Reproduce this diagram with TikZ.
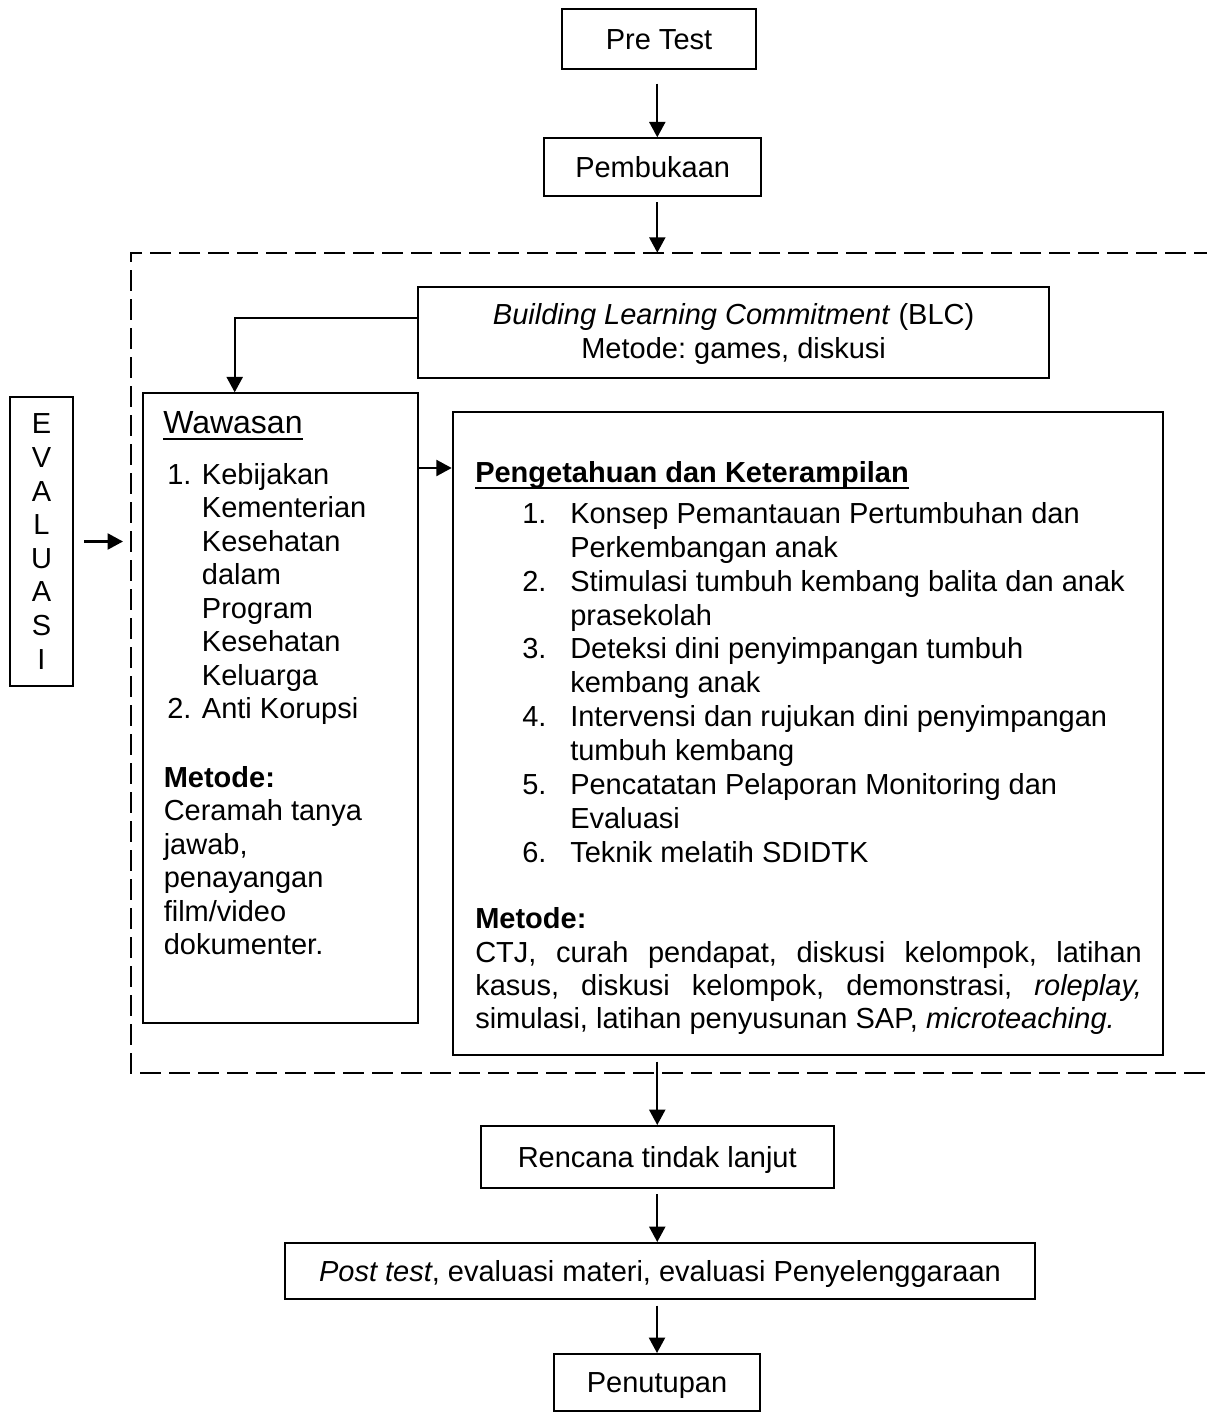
\documentclass[tikz,border=0pt]{standalone}
\usepackage{fontspec}
\setmainfont{Liberation Sans}
\usetikzlibrary{arrows.meta,fit,calc}
\newcommand\fsz{\fontsize{21.75}{25.2}\selectfont\frenchspacing}
\begin{document}
\begin{tikzpicture}[x=0.75pt,y=-0.75pt,
  box/.style={draw, line width=1.5pt, inner sep=0pt},
  arr/.style={line width=1.6pt, -{Triangle[length=11.5pt,width=12pt]}},
  txt/.style={inner sep=0pt, anchor=base west, font=\fsz},
  ctxt/.style={inner sep=0pt, anchor=base, font=\fsz},
  frame/.style={line width=1.5pt, dash pattern=on 15.75pt off 6pt}]
\fill[white] (0,0) rectangle (1206,1412);
\useasboundingbox (0,0) rectangle (1206,1412);

% dashed frame (open to the right)
\draw[frame] (1215,252.7) -- (130.7,252.7) -- (130.7,1073) -- (1215,1073);
\coordinate (ftop) at (657.3,252.7);
\coordinate (fleft) at (130.7,540);

% boxes
\node[box, fit={(562.3,9.3)(755.7,69.3)}] (pre) {};
\node[box, fit={(544.3,138.3)(761,196)}] (pemb) {};
\node[box, fit={(418.3,287.3)(1049,378.3)}] (blc) {};
\node[box, fit={(10,397)(73,686)}] (eval) {};
\node[box, fit={(142.7,393.3)(418.3,1023.3)}] (waw) {};
\node[box, fit={(452.7,411.7)(1163,1054.7)}] (pk) {};
\node[box, fit={(481,1126)(833.5,1188)}] (ren) {};
\node[box, fit={(285,1243)(1035,1298.5)}] (post) {};
\node[box, fit={(554,1354)(760,1411)}] (pen) {};

% box texts
\node[ctxt] (pret) at ($(pre.center)+(0,10.4)$) {Pre Test};
\node[ctxt] (pembt) at ($(pemb.center)+(0,10.4)$) {Pembukaan};
\node[ctxt] (blct1) at ($(blc.center)+(0,-7.8)$) {\textit{Building Learning Commitment} (BLC)};
\node[ctxt] (blct2) at ($(blc.center)+(0,25.2)$) {Metode: games, diskusi};
\node[inner sep=0pt, font=\fsz, align=center, anchor=center] (evalt) at ($(eval.center)+(0,0)$) {E\\V\\A\\L\\U\\A\\S\\I};
\node[ctxt] (rent) at ($(ren.center)+(0,10.4)$) {Rencana tindak lanjut};
\node[ctxt] (postt) at ($(post.center)+(0,10.4)$) {\textit{Post test}, evaluasi materi, evaluasi Penyelenggaraan};
\node[ctxt] (pent) at ($(pen.center)+(0,10.4)$) {Penutupan};

% connectors
\draw[arr, shorten <=10pt] (pre.south -| ftop) -- (pemb.north -| ftop);
\draw[arr, shorten <=4pt] (pemb.south -| ftop) -- (ftop);
\draw[arr] ($(blc.north west)!0.34!(blc.south west)$) -| ($(waw.north west)!0.335!(waw.north east)$);
\draw[arr, shorten <=7.5pt, shorten >=5.8pt] (eval.east) -- (eval.east -| fleft);
\draw[arr] ($(waw.north east)+(0,75.7)$) coordinate (wp) -- (wp -| pk.west);
\draw[arr, shorten <=4.5pt] (ren.north |- pk.south) -- (ren.north);
\draw[arr, shorten <=4pt] (ren.south) -- (ren.south |- post.north);
\draw[arr, shorten <=4.5pt] (pen.north |- post.south) -- (pen.north);

% Wawasan content
\node[txt, font=\fontsize{24}{28}\selectfont] (wt) at (163,433) {Wawasan};
\draw[line width=1.5pt] ($(wt.base west)+(0,6.3)$) -- ($(wt.base east)+(0,6.3)$);
\node[txt] (wn1) at (167,484) {1.};
\foreach \t [count=\i] in {Kebijakan,Kementerian,Kesehatan,dalam,Program,Kesehatan,Keluarga}
  \node[txt] (wl\i) at (201.7,{484+33.5*(\i-1)}) {\t};
\node[txt] (wn2) at (167,718.5) {2.};
\node[txt] (wl8) at (201.7,718.5) {Anti Korupsi};
\node[txt] (wm) at (163.5,787) {\textbf{Metode:}};
\foreach \t [count=\i] in {Ceramah tanya,{jawab,},penayangan,film/video,dokumenter.}
  \node[txt] (wd\i) at (163.5,{787+33.5*\i}) {\t};

% Pengetahuan content
\node[txt] (pt) at (475,482) {\textbf{Pengetahuan dan Keterampilan}};
\draw[line width=1.5pt] ($(pt.base west)+(0,5.5)$) -- ($(pt.base east)+(0,5.5)$);
\node[txt] (pn1) at (522,523.3) {1.};
\node[txt] (pn2) at (522,591.1) {2.};
\node[txt] (pn3) at (522,658.9) {3.};
\node[txt] (pn4) at (522,726.7) {4.};
\node[txt] (pn5) at (522,794.5) {5.};
\node[txt] (pn6) at (522,862.3) {6.};
\foreach \t [count=\i] in {Konsep Pemantauan Pertumbuhan dan,Perkembangan anak,
  Stimulasi tumbuh kembang balita dan anak,prasekolah,
  Deteksi dini penyimpangan tumbuh,kembang anak,
  Intervensi dan rujukan dini penyimpangan,tumbuh kembang,
  Pencatatan Pelaporan Monitoring dan,Evaluasi,Teknik melatih SDIDTK}
  \node[txt] (pl\i) at (570,{523.3+33.9*(\i-1)}) {\t};
\node[txt] (pm) at (475,928) {\textbf{Metode:}};
\node[txt] (pc1) at (475,962) {\makebox[500pt][s]{CTJ, curah pendapat, diskusi kelompok, latihan}};
\node[txt] (pc2) at (475,995.5) {\makebox[500pt][s]{kasus, diskusi kelompok, demonstrasi, \textit{roleplay,}}};
\node[txt] (pc3) at (475,1028.5) {simulasi, latihan penyusunan SAP, \textit{microteaching.}};
\end{tikzpicture}
\end{document}
